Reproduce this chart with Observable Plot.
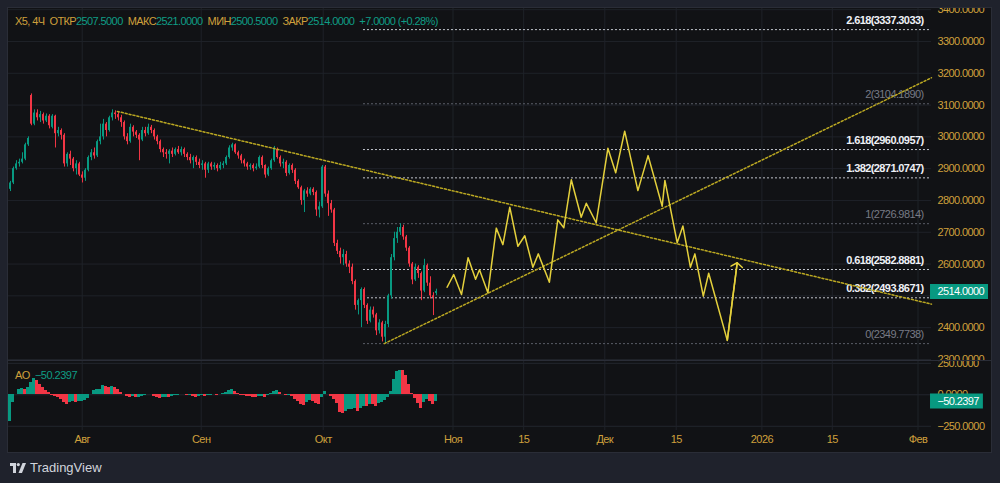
<!DOCTYPE html>
<html><head><meta charset="utf-8">
<script src="https://cdn.jsdelivr.net/npm/d3@7"></script>
<script src="https://cdn.jsdelivr.net/npm/@observablehq/plot@0.6"></script>
<style>
html,body{margin:0;padding:0;background:#1f222c;}
#wrap{position:relative;width:1000px;height:483px;overflow:hidden;background:#1f222c;font-family:"Liberation Sans",Roboto,sans-serif;}
#frame{position:absolute;left:8px;top:8px;width:983px;height:444px;background:#111215;box-shadow:0 0 0 1px #2a2d37;}
#pricePane{position:absolute;left:8px;top:8px;}
#aoPane{position:absolute;left:8px;top:361px;}
#sep{position:absolute;left:8px;top:360px;width:983px;height:1px;background:#2a2d37;}
#header{position:absolute;left:15px;top:14px;font-size:11px;letter-spacing:-0.6px;line-height:14px;white-space:nowrap;}
#aoLegend{position:absolute;left:15px;top:368px;font-size:11px;letter-spacing:-0.5px;line-height:14px;white-space:nowrap;}
.g{color:#cfa03c;} .t{color:#0f9d85;}
.sp{margin-left:5px;}
#logo{position:absolute;left:10px;top:460px;display:flex;align-items:center;color:#d1d4dc;font-family:"Liberation Sans",Roboto,sans-serif;font-size:13px;}
#pricePane svg text, #aoPane svg text{letter-spacing:-0.6px;}
svg{overflow:hidden;}
</style>
</head><body>
<div id="wrap">
  <div id="frame"></div>
  <div id="pricePane"></div>
  <div id="sep"></div>
  <div id="aoPane"></div>
  <div id="header"></div>
  <div id="aoLegend"></div>
  <div id="logo"><svg width="16" height="10" viewBox="0 0 16 10"><rect x="0" y="0" width="6" height="3" fill="#d1d4dc"/><rect x="3" y="0" width="3" height="10" fill="#d1d4dc"/><circle cx="8.3" cy="1.6" r="1.6" fill="#d1d4dc"/><path d="M12.5 0 L16 0 L12 10 L8.5 10 Z" fill="#d1d4dc"/></svg><span style="margin-left:4px">TradingView</span></div>
</div>
<script>
// ---------- DATA ----------
const symbol = "X5, 4Ч";
const ohlcLabels = ["ОТКР", "МАКС", "МИН", "ЗАКР"];
const ohlcValues = ["2507.5000", "2521.0000", "2500.5000", "2514.0000"];
const changeText = "+7.0000 (+0.28%)";

// candles: [open, high, low, close], one per 4H slot group
const candles = [
[2835,2860,2828,2855],[2855,2905,2850,2900],[2900,2925,2895,2915],[2915,2930,2905,2920],[2920,2950,2915,2930],
[2930,2980,2925,2975],[2975,3000,2970,2995],[3130,3135,3035,3040],[3040,3085,3035,3075],[3075,3085,3050,3060],
[3060,3080,3045,3070],[3070,3075,3040,3050],[3050,3072,3045,3065],[3065,3070,3025,3035],[3030,3070,3025,3065],
[3065,3068,2965,3010],[3010,3030,3000,3020],[3020,3025,2990,3005],[3005,3010,2905,2915],[2915,2950,2905,2945],
[2945,2955,2910,2930],[2930,2935,2890,2900],[2900,2925,2880,2915],[2915,2920,2875,2880],[2880,2890,2855,2870],
[2870,2900,2860,2895],[2895,2940,2890,2935],[2935,2960,2925,2950],[2950,2965,2930,2940],[2940,2990,2935,2985],
[2985,3040,2975,3000],[3000,3055,2990,3040],[3040,3045,3000,3020],[3020,3065,3015,3060],[3060,3085,3050,3075],
[3075,3082,3055,3070],[3070,3080,3050,3060],[3060,3068,3030,3045],[3045,3050,2990,3000],[3000,3010,2975,2985],
[2985,3040,2980,3030],[3030,3035,3000,3015],[3015,3020,2995,3005],[3005,3010,2925,2990],[2990,3030,2985,3020],
[3020,3030,3000,3010],[3010,3040,3005,3030],[3030,3036,3010,3020],[3020,3025,2990,3000],[3000,3005,2975,2985],
[2985,2990,2950,2960],[2960,2965,2935,2950],[2950,2960,2930,2945],[2945,2960,2915,2955],[2955,2965,2935,2945],
[2945,2965,2940,2960],[2960,2970,2945,2950],[2950,2968,2940,2960],[2960,2965,2935,2945],[2945,2950,2925,2935],
[2935,2945,2915,2925],[2925,2940,2900,2935],[2935,2940,2910,2920],[2920,2930,2900,2910],[2910,2925,2895,2915],
[2915,2920,2870,2895],[2895,2920,2885,2915],[2915,2920,2895,2905],[2905,2918,2895,2910],[2910,2915,2890,2900],
[2900,2920,2895,2910],[2910,2922,2900,2915],[2915,2940,2910,2935],[2935,2972,2930,2965],[2965,2980,2955,2975],
[2975,2978,2945,2950],[2950,2955,2930,2940],[2940,2945,2915,2925],[2925,2930,2905,2915],[2915,2920,2895,2905],
[2905,2915,2895,2910],[2910,2915,2890,2900],[2900,2915,2895,2905],[2905,2940,2900,2935],[2935,2940,2900,2910],
[2910,2912,2870,2880],[2880,2905,2875,2900],[2900,2930,2895,2925],[2925,2970,2920,2960],[2960,2965,2930,2935],
[2935,2940,2905,2915],[2915,2930,2900,2920],[2920,2925,2875,2885],[2885,2915,2880,2910],[2910,2915,2885,2895],
[2895,2900,2850,2860],[2860,2865,2835,2840],[2840,2845,2785,2800],[2800,2835,2762,2830],[2830,2840,2810,2820],
[2820,2840,2815,2835],[2835,2840,2815,2825],[2825,2830,2750,2770],[2770,2795,2745,2780],[2780,2910,2775,2905],
[2905,2910,2810,2820],[2820,2830,2750,2790],[2790,2800,2760,2770],[2770,2775,2655,2665],[2665,2675,2630,2640],
[2640,2650,2600,2620],[2620,2645,2595,2630],[2630,2640,2590,2600],[2600,2610,2570,2590],[2590,2600,2535,2545],
[2545,2550,2455,2470],[2470,2490,2440,2485],[2485,2525,2400,2520],[2520,2525,2460,2470],[2470,2475,2410,2420],
[2420,2465,2415,2455],[2455,2465,2430,2440],[2440,2445,2375,2390],[2390,2425,2380,2415],[2415,2420,2355,2370],
[2370,2420,2350,2410],[2410,2505,2400,2500],[2500,2630,2490,2620],[2620,2700,2610,2680],[2680,2715,2665,2700],
[2700,2727,2690,2715],[2715,2722,2675,2685],[2685,2690,2640,2650],[2650,2655,2590,2600],[2600,2605,2535,2550],
[2550,2600,2545,2590],[2590,2595,2555,2570],[2570,2575,2485,2515],[2515,2615,2510,2595],[2595,2600,2530,2540],
[2540,2560,2490,2500],[2500,2510,2438,2495],[2507.5,2521,2500.5,2514]
];

// Awesome Oscillator, one value per candle
const aoValues = [
-210,-60,5,40,50,45,60,100,130,110,80,55,35,15,-5,-15,-25,-40,-60,-80,
-65,-55,-58,-55,-52,-45,-30,5,35,40,45,72,65,60,62,55,40,20,5,-10,
-20,-15,-22,-18,-12,-5,5,3,-12,-20,-28,-25,-18,-22,-15,-8,-3,4,2,-5,
-2,-10,-18,-12,-5,-12,-8,-3,2,-4,5,8,18,35,42,30,10,-2,-8,-10,
-12,-18,-20,-15,-12,-20,-5,8,30,34,15,5,-5,-3,-15,-35,-55,-75,-85,-60,
-45,-55,-70,-80,-20,30,5,-15,-35,-70,-140,-150,-130,-120,-115,-110,-135,-110,-90,-95,
-75,-80,-90,-70,-60,-45,-20,30,120,185,195,190,150,80,10,-30,-70,-110,-60,-40,
-55,-75,-50.2397
];

const priceTicks = [2300,2400,2500,2600,2700,2800,2900,3000,3100,3200,3300,3400];
const aoTicks = [-250, 0, 250];
const timeTickPos = [24.57, 64.23, 104.9, 148.17, 171.73, 198.77, 222.57, 251.13, 274.6, 303.17];
const timeTickLabels = ["Авг","Сен","Окт","Ноя","15","Дек","15","2026","15","Фев"];

const fibRatios = ["0","0.382","0.618","1","1.382","1.618","2","2.618"];
const fibPrices = [2349.7738, 2493.8671, 2582.8881, 2726.9814, 2871.0747, 2960.0957, 3104.1890, 3337.3033];
const fibMain = [false, true, true, false, true, true, false, true];
const fibStart = 118.33;

// projected path (bar position, price)
const zigzagX = [146.2,148.4,151.0,153.2,155.7,157.0,159.8,162.6,164.8,167.1,169.8,172.1,174.8,176.6,180.3,183.1,185.1,187.6,190.9,192.6,195.9,199.8,202.4,205.4,209.8,213.2,217.9,218.8,222.9,224.8,227.3,228.8,231.6,233.4,239.6,242.9];
const zigzagP = [2527,2567,2504,2620,2552,2582,2510,2713,2661,2779,2656,2689,2590,2632,2543,2739,2714,2865,2747,2791,2730,2964,2887,3018,2831,2941,2782,2863,2667,2720,2590,2632,2499,2571,2360,2604];

const trendDownX = [36.3, 307.67], trendDownP = [3080, 2474];
const trendUpX = [125.3, 307.67], trendUpP = [2350, 3186];

const lastClose = 2514;
const aoLast = -50.2397;

// ---------- STYLE ----------
const FONT = '"Liberation Sans",Roboto,sans-serif';
const GOLD = "#cfa03c", TEAL = "#0f9d85", UP = "#089981", DOWN = "#f23645";
const GRID = "#1f2229", YEL = "#bca922", ZZ = "#e4d03c";
const xMax = 307.67;

// header
document.getElementById("header").innerHTML =
  `<span class="g">${symbol}</span>` +
  ohlcLabels.map((l, i) => `<span class="g sp">${l}</span><span class="t">${ohlcValues[i]}</span>`).join("") +
  `<span class="t sp">${changeText}</span>`;
document.getElementById("aoLegend").innerHTML =
  `<span class="g">AO</span><span class="t sp">${aoLast.toFixed(4).replace("-", "−")}</span>`;

const rows = candles.map(([o, h, l, c], i) => ({i, o, h, l, c}));
const ups = rows.filter(d => d.c >= d.o), downs = rows.filter(d => d.c < d.o);
const fib = fibPrices.map((p, k) => ({p, r: fibRatios[k], main: fibMain[k]}));
const zz = zigzagX.map((x, k) => ({x, p: zigzagP[k]}));
const tdown = trendDownX.map((x, k) => ({x, p: trendDownP[k]}));
const tup = trendUpX.map((x, k) => ({x, p: trendUpP[k]}));
const fmt = d => d.toFixed(4).replace("-", "−");

const candleMarks = (data, color) => [
  Plot.ruleX(data, {x: d => d.i + 2/3, y1: "l", y2: "h", stroke: color, strokeWidth: 1}),
  Plot.rect(data, {x1: d => d.i + 1/3, x2: d => d.i + 1, y1: "o", y2: d => (Math.abs(d.c - d.o) < 2 ? d.o + 2 : d.c), fill: color})
];

const price = Plot.plot({
  width: 983, height: 352, marginLeft: 0, marginRight: 60, marginTop: 0, marginBottom: 0,
  x: {domain: [0, xMax], axis: null},
  y: {domain: [2296.7, 3403.7]},
  style: {background: "transparent", color: GOLD, fontFamily: FONT, fontSize: "11px"},
  marks: [
    Plot.ruleY(priceTicks, {stroke: GRID}),
    Plot.ruleX(timeTickPos, {stroke: GRID}),
    Plot.ruleY(fib.filter(d => d.main), {y: "p", x1: fibStart, x2: xMax, stroke: "#c3c6ce", strokeDasharray: "2,2"}),
    Plot.ruleY(fib.filter(d => !d.main), {y: "p", x1: fibStart, x2: xMax, stroke: "#5a5d67", strokeDasharray: "2,2"}),
    Plot.text(fib.filter(d => d.main), {y: "p", x: xMax, dx: -8, dy: -9, text: d => `${d.r}(${d.p.toFixed(4)})`, textAnchor: "end", fill: "#eef0f5", fontWeight: "bold", fontSize: 11}),
    Plot.text(fib.filter(d => !d.main), {y: "p", x: xMax, dx: -8, dy: -9, text: d => `${d.r}(${d.p.toFixed(4)})`, textAnchor: "end", fill: "#787b86", fontSize: 11}),
    ...candleMarks(ups, UP),
    ...candleMarks(downs, DOWN),
    Plot.line(tdown, {x: "x", y: "p", stroke: YEL, strokeWidth: 1.5, strokeDasharray: "2,2"}),
    Plot.line(tup, {x: "x", y: "p", stroke: YEL, strokeWidth: 1.5, strokeDasharray: "2,2"}),
    Plot.line(zz, {x: "x", y: "p", stroke: ZZ, strokeWidth: 1.5}),
    Plot.arrow([zz.slice(-2)], {x1: d => d[0].x, y1: d => d[0].p, x2: d => d[1].x, y2: d => d[1].p, stroke: ZZ, strokeWidth: 1.5, headLength: 7, headAngle: 110}),
    Plot.axisY(priceTicks.filter(d => Math.abs(d - lastClose) > 20), {anchor: "right", tickSize: 0, tickPadding: 6, tickFormat: fmt, fill: GOLD, fontSize: 11, label: null}),
    Plot.ruleY([lastClose], {x1: xMax - 0.33, x2: xMax + 19, stroke: UP, strokeWidth: 15}),
    Plot.text([lastClose], {y: d => d, x: xMax, dx: 6, text: fmt, textAnchor: "start", fill: "#ffffff", fontSize: 11})
  ]
});
document.getElementById("pricePane").appendChild(price);

const aoRows = aoValues.map((v, i) => ({i, v, up: i === 0 ? true : v >= aoValues[i - 1]}));
const labelOf = new Map(timeTickPos.map((p, k) => [p, timeTickLabels[k]]));

const ao = Plot.plot({
  width: 983, height: 91, marginLeft: 0, marginRight: 60, marginTop: 0, marginBottom: 22,
  x: {domain: [0, xMax]},
  y: {domain: [-283.5, 264.4]},
  style: {background: "transparent", color: GOLD, fontFamily: FONT, fontSize: "11px"},
  marks: [
    Plot.ruleY(aoTicks, {stroke: "#23262e"}),
    Plot.ruleX(timeTickPos, {stroke: GRID}),
    Plot.rect(aoRows.filter(d => d.up), {x1: "i", x2: d => d.i + 1, y1: 0, y2: "v", fill: UP, shapeRendering: "crispEdges"}),
    Plot.rect(aoRows.filter(d => !d.up), {x1: "i", x2: d => d.i + 1, y1: 0, y2: "v", fill: DOWN, shapeRendering: "crispEdges"}),
    Plot.axisY(aoTicks, {anchor: "right", tickSize: 0, tickPadding: 6, tickFormat: fmt, fill: GOLD, fontSize: 11, label: null}),
    Plot.axisX(timeTickPos, {tickSize: 0, tickPadding: 5, tickFormat: d => labelOf.get(d), fill: GOLD, fontSize: 11, label: null}),
    Plot.ruleY([aoLast], {x1: xMax - 0.33, x2: xMax + 17.3, stroke: UP, strokeWidth: 15}),
    Plot.text([aoLast], {y: d => d, x: xMax, dx: 6, text: fmt, textAnchor: "start", fill: "#ffffff", fontSize: 11})
  ]
});
document.getElementById("aoPane").appendChild(ao);
</script>
</body></html>
